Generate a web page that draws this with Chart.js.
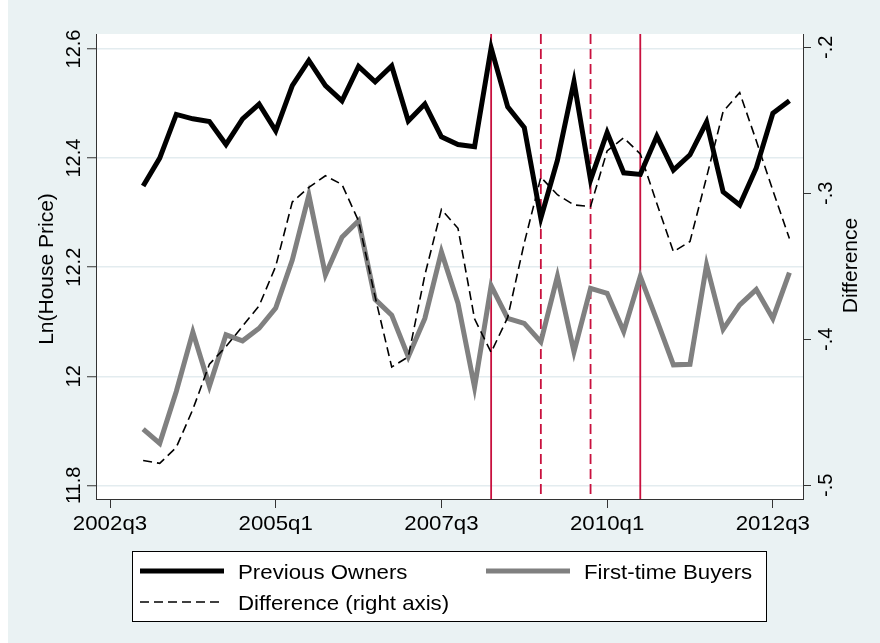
<!DOCTYPE html>
<html>
<head>
<meta charset="utf-8">
<title>House prices: previous owners vs first-time buyers</title>
<script src="https://cdn.jsdelivr.net/npm/chart.js@4/dist/chart.umd.min.js"></script>
<style>
  html, body { margin: 0; padding: 0; background: #fff; }
  canvas { display: block; }
</style>
</head>
<body>
<canvas id="priceChart" width="880" height="643"></canvas>
<script>
const quarters = [
  '2003q1','2003q2','2003q3','2003q4','2004q1','2004q2','2004q3','2004q4',
  '2005q1','2005q2','2005q3','2005q4','2006q1','2006q2','2006q3','2006q4',
  '2007q1','2007q2','2007q3','2007q4','2008q1','2008q2','2008q3','2008q4',
  '2009q1','2009q2','2009q3','2009q4','2010q1','2010q2','2010q3','2010q4',
  '2011q1','2011q2','2011q3','2011q4','2012q1','2012q2','2012q3','2012q4'
];
const previousOwners = [
  12.349, 12.400, 12.480, 12.472, 12.467, 12.425, 12.472, 12.499,
  12.450, 12.533, 12.579, 12.533, 12.505, 12.568, 12.540, 12.569,
  12.468, 12.499, 12.439, 12.425, 12.421, 12.602, 12.494, 12.456,
  12.290, 12.396, 12.540, 12.360, 12.447, 12.373, 12.370, 12.440,
  12.378, 12.406, 12.466, 12.338, 12.314, 12.382, 12.482, 12.505
];
const firstTimeBuyers = [
  11.903, 11.877, 11.972, 12.081, 11.982, 12.076, 12.065, 12.088,
  12.125, 12.213, 12.332, 12.186, 12.255, 12.285, 12.141, 12.112,
  12.036, 12.106, 12.228, 12.134, 11.980, 12.166, 12.106, 12.097,
  12.063, 12.183, 12.045, 12.161, 12.152, 12.082, 12.183, 12.103,
  12.021, 12.022, 12.204, 12.086, 12.131, 12.159, 12.106, 12.190
];
const difference = [
  -0.483, -0.485, -0.474, -0.448, -0.417, -0.405, -0.391, -0.377,
  -0.350, -0.306, -0.296, -0.288, -0.294, -0.319, -0.371, -0.419,
  -0.412, -0.356, -0.311, -0.324, -0.386, -0.409, -0.385, -0.334,
  -0.289, -0.301, -0.308, -0.309, -0.271, -0.262, -0.273, -0.307,
  -0.340, -0.333, -0.289, -0.244, -0.231, -0.264, -0.298, -0.331
];
const xTickLabels = ['2002q3', '2005q1', '2007q3', '2010q1', '2012q3'];
const priceTicks = [11.8, 12, 12.2, 12.4, 12.6];
const priceTickLabels = ['11.8', '12', '12.2', '12.4', '12.6'];
const diffTicks = [-0.5, -0.4, -0.3, -0.2];
const diffTickLabels = ['-.5', '-.4', '-.3', '-.2'];
const solidMarkers = ['2008q2', '2010q3'];
const dashedMarkers = ['2009q1', '2009q4'];

// quarters counted from 2002q3
function qIndex(label) {
  const year = parseInt(label.slice(0, 4), 10);
  const q = parseInt(label.slice(5), 10);
  return (year - 2002) * 4 + (q - 3);
}

const FONT = '"Liberation Sans", Arial, sans-serif';
const AXIS = '#333333';
const RED = '#c8103e';
const WIDEN = 1.06; // horizontal text is drawn slightly stretched

const points = (vals) => quarters.map((q, i) => ({ x: qIndex(q), y: vals[i] }));

function wideText(ctx, text, x, y, align) {
  ctx.save();
  ctx.translate(x, y);
  ctx.scale(WIDEN, 1);
  ctx.textAlign = align;
  ctx.textBaseline = 'alphabetic';
  ctx.fillText(text, 0, 0);
  ctx.restore();
}

const frame = {
  id: 'frame',
  beforeDraw(chart) {
    const { ctx, chartArea: a } = chart;
    ctx.save();
    ctx.fillStyle = '#ffffff';
    ctx.fillRect(0, 0, chart.width, chart.height);
    ctx.fillStyle = '#eaf2f3';
    ctx.fillRect(8, 0, chart.width - 8, chart.height);
    ctx.fillStyle = '#ffffff';
    ctx.fillRect(a.left, a.top, a.right - a.left, a.bottom - a.top);
    ctx.restore();
  }
};

const markers = {
  id: 'markers',
  beforeDatasetsDraw(chart) {
    const { ctx, chartArea: a, scales } = chart;
    ctx.save();
    ctx.strokeStyle = RED;
    ctx.lineWidth = 1.8;
    const draw = (q, dash) => {
      const x = scales.x.getPixelForValue(qIndex(q));
      ctx.setLineDash(dash);
      ctx.beginPath();
      ctx.moveTo(x, a.top);
      ctx.lineTo(x, a.bottom);
      ctx.stroke();
    };
    solidMarkers.forEach(q => draw(q, []));
    dashedMarkers.forEach(q => draw(q, [10, 5]));
    ctx.restore();
  }
};

const labels = {
  id: 'labels',
  afterDraw(chart) {
    const { ctx, scales } = chart;
    ctx.save();
    ctx.fillStyle = '#000';
    ctx.textBaseline = 'alphabetic';

    // x axis tick labels
    ctx.font = '21px ' + FONT;
    xTickLabels.forEach(l => {
      wideText(ctx, l, scales.x.getPixelForValue(qIndex(l)), 529.5, 'center');
    });

    // rotated y tick labels
    const vertical = (text, x, y) => {
      ctx.save();
      ctx.translate(x, y);
      ctx.rotate(-Math.PI / 2);
      ctx.textAlign = 'center';
      ctx.fillText(text, 0, 0);
      ctx.restore();
    };
    ctx.font = '20px ' + FONT;
    priceTicks.forEach((v, i) => vertical(priceTickLabels[i], 80, scales.y.getPixelForValue(v)));
    diffTicks.forEach((v, i) => vertical(diffTickLabels[i], 831.5, scales.y2.getPixelForValue(v)));

    // axis titles
    ctx.font = '21px ' + FONT;
    vertical('Ln(House Price)', 53, 269);
    vertical('Difference', 856.5, 265.5);
    ctx.restore();
  }
};

const legendBox = {
  id: 'legendBox',
  afterDraw(chart) {
    const { ctx } = chart;
    const ds = chart.data.datasets;
    ctx.save();
    ctx.fillStyle = '#ffffff';
    ctx.fillRect(132, 551, 635, 70);
    ctx.strokeStyle = '#000';
    ctx.lineWidth = 1;
    ctx.strokeRect(132.5, 551.5, 634, 70);

    const entry = (d, x, y, textX) => {
      ctx.save();
      ctx.strokeStyle = d.borderColor;
      ctx.lineWidth = d.borderWidth;
      ctx.setLineDash(d.borderDash || []);
      ctx.beginPath();
      ctx.moveTo(x, y);
      ctx.lineTo(x + 84, y);
      ctx.stroke();
      ctx.restore();
      ctx.fillStyle = '#000';
      ctx.font = '21px ' + FONT;
      wideText(ctx, d.label, textX, y + 8, 'left');
    };
    entry(ds[0], 140, 571, 238);
    entry(ds[1], 486, 571, 584);
    entry(ds[2], 140, 602, 238);
    ctx.restore();
  }
};

new Chart(document.getElementById('priceChart'), {
  type: 'line',
  data: {
    datasets: [
      {
        label: 'Previous Owners',
        data: points(previousOwners),
        yAxisID: 'y',
        borderColor: '#000000',
        borderWidth: 5,
        order: 3
      },
      {
        label: 'First-time Buyers',
        data: points(firstTimeBuyers),
        yAxisID: 'y',
        borderColor: '#808080',
        borderWidth: 5,
        order: 2
      },
      {
        label: 'Difference (right axis)',
        data: points(difference),
        yAxisID: 'y2',
        borderColor: '#000000',
        borderWidth: 1.6,
        borderDash: [9, 5],
        order: 1
      }
    ]
  },
  options: {
    responsive: false,
    animation: false,
    events: [],
    elements: {
      point: { radius: 0 },
      line: { tension: 0, fill: false, borderJoinStyle: 'miter', borderCapStyle: 'butt' }
    },
    layout: { padding: { top: 34, bottom: 104, left: 0, right: 0 } },
    plugins: { legend: { display: false }, tooltip: { enabled: false } },
    scales: {
      x: {
        type: 'linear',
        min: -0.845,
        max: 41.82,
        afterBuildTicks: s => { s.ticks = xTickLabels.map(l => ({ value: qIndex(l) })); },
        afterFit: s => { s.height = 40; },
        ticks: { display: false },
        grid: { drawOnChartArea: false, drawTicks: true, tickLength: 9, tickColor: AXIS, tickWidth: 1 },
        border: { display: true, color: AXIS, width: 1 }
      },
      y: {
        position: 'left',
        min: 11.775,
        max: 12.6275,
        afterBuildTicks: s => { s.ticks = priceTicks.map(v => ({ value: v })); },
        afterFit: s => { s.width = 96; },
        ticks: { display: false },
        grid: { color: '#e3ecef', lineWidth: 1.5, tickLength: 9, tickColor: AXIS, tickWidth: 1 },
        border: { display: true, color: AXIS, width: 1 }
      },
      y2: {
        position: 'right',
        min: -0.5094,
        max: -0.1909,
        afterBuildTicks: s => { s.ticks = diffTicks.map(v => ({ value: v })); },
        afterFit: s => { s.width = 77; },
        ticks: { display: false },
        grid: { drawOnChartArea: false, tickLength: 8, tickColor: AXIS, tickWidth: 1 },
        border: { display: true, color: AXIS, width: 1 }
      }
    }
  },
  plugins: [frame, markers, labels, legendBox]
});
</script>
</body>
</html>
